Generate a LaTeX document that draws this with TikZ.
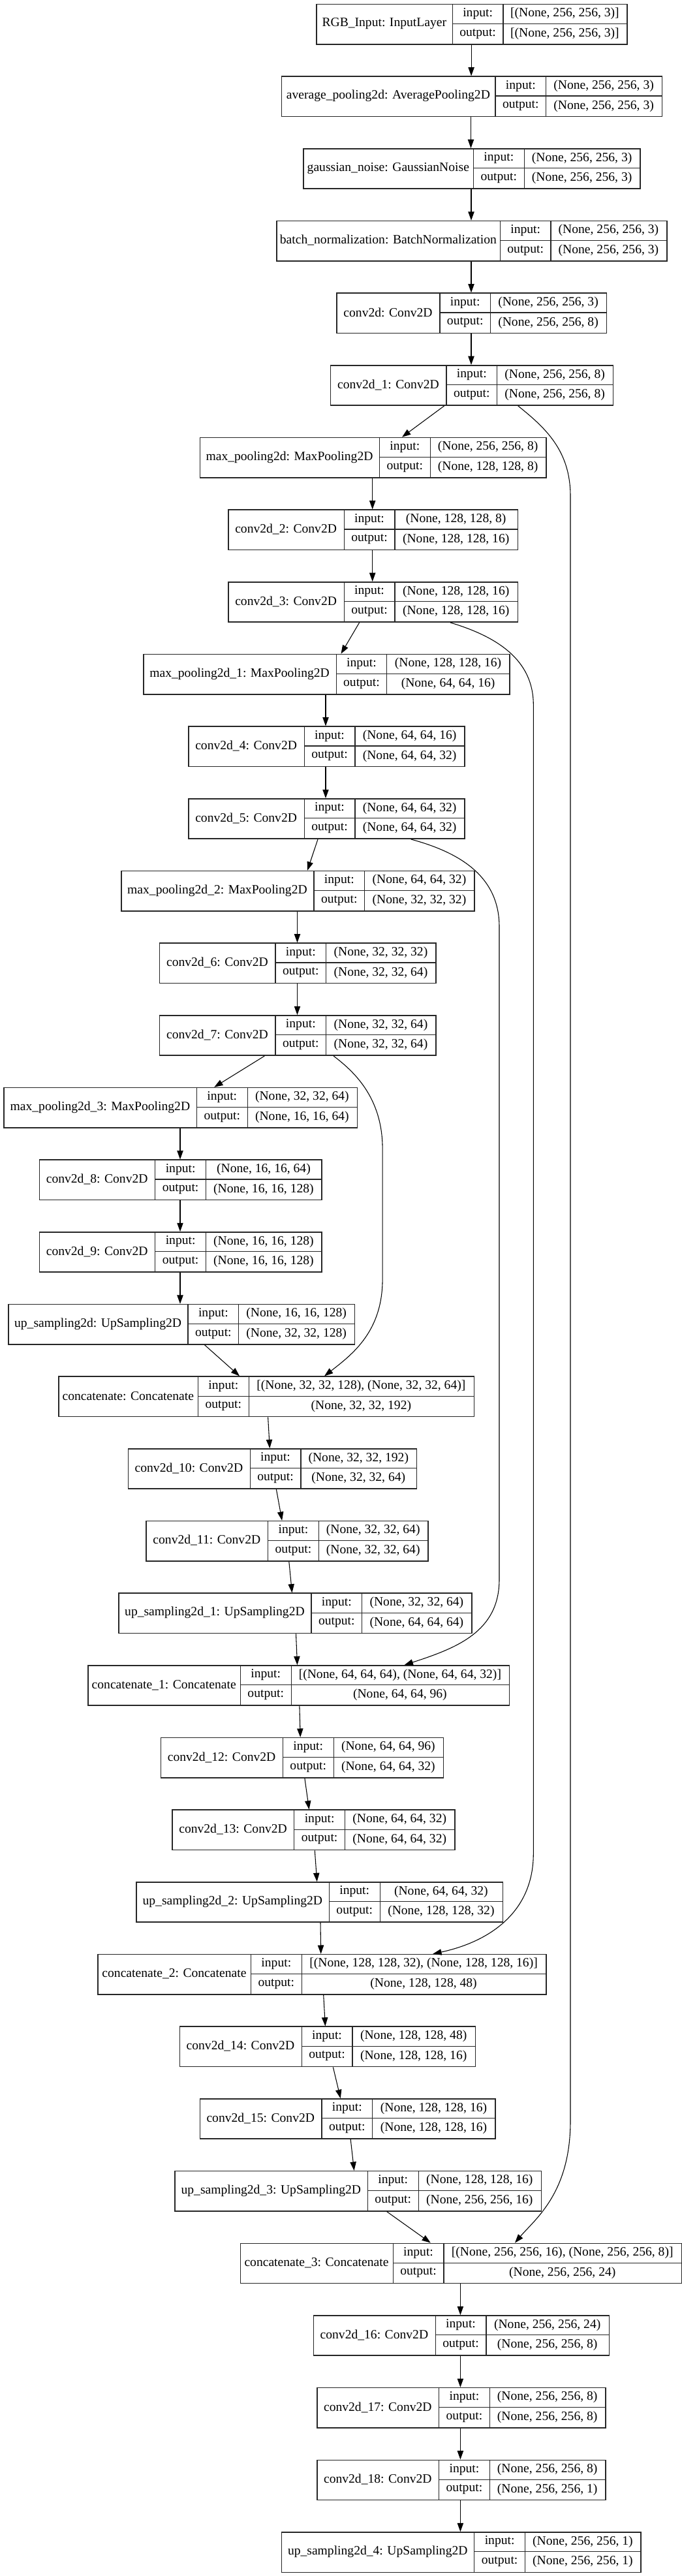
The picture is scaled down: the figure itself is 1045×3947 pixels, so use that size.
\documentclass[tikz,border=0pt]{standalone}
\usepackage{fontspec}
\setmainfont{Liberation Serif}
\usepackage{tikz}
\usetikzlibrary{arrows.meta}

\tikzset{
  layerbox/.style={draw=black!85, line width=1.2pt, inner sep=0pt, minimum height=45.975pt},
  cellline/.style={draw=black!85, line width=0.9pt},
  txt/.style={inner sep=0pt, font=\fontsize{14.7}{16}\selectfont},
  arr/.style={line width=0.8pt, -{Triangle[length=10pt,width=7pt]}},
}

% #1 id, #2 row, #3 left, #4 split1, #5 split2, #6 right, #7 title, #8 input, #9 output
\newcommand{\layer}[9]{%
  \pgfmathsetmacro{\ytop}{5.7+#2*110.67}
  \pgfmathsetmacro{\ymid}{\ytop+30.65}
  \pgfmathsetmacro{\ybot}{\ytop+61.3}
  \node[layerbox, minimum width={(#6-#3)*0.75pt}, anchor=north west] (#1) at (#3,\ytop) {};
  \draw[cellline] (#4,\ytop) -- (#4,\ybot) (#5,\ytop) -- (#5,\ybot) (#4,\ymid) -- (#6,\ymid);
  \node[txt] (#1-name) at ({(#3+#4)/2},\ymid) {#7};
  \node[txt] (#1-inl) at ({(#4+#5)/2},{\ytop+15.33}) {input:};
  \node[txt] (#1-outl) at ({(#4+#5)/2},{\ytop+45.98}) {output:};
  \node[txt] (#1-in) at ({(#5+#6)/2},{\ytop+15.33}) {#8};
  \node[txt] (#1-out) at ({(#5+#6)/2},{\ytop+45.98}) {#9};
}

\begin{document}
\begin{tikzpicture}[x=0.75pt,y=-0.75pt]

  \fill[white] (0,0) rectangle (1045,3947);
  \useasboundingbox (0,0) rectangle (1045,3947);

  % 编码部分
  \layer{rgb}{0}{484.3}{693.3}{771.0}{959.9}{RGB\_Input: InputLayer}{[(None, 256, 256, 3)]}{[(None, 256, 256, 3)]}
  \layer{avgpool}{1}{430.7}{759.0}{836.7}{1013.5}{average\_pooling2d: AveragePooling2D}{(None, 256, 256, 3)}{(None, 256, 256, 3)}
  \layer{gnoise}{2}{464.2}{725.5}{803.2}{980.0}{gaussian\_noise: GaussianNoise}{(None, 256, 256, 3)}{(None, 256, 256, 3)}
  \layer{bnorm}{3}{423.4}{766.4}{844.0}{1020.9}{batch\_normalization: BatchNormalization}{(None, 256, 256, 3)}{(None, 256, 256, 3)}
  \layer{cv0}{4}{515.1}{673.9}{751.6}{928.5}{conv2d: Conv2D}{(None, 256, 256, 3)}{(None, 256, 256, 8)}
  \layer{cv1}{5}{505.8}{684.0}{761.7}{938.5}{conv2d\_1: Conv2D}{(None, 256, 256, 8)}{(None, 256, 256, 8)}
  \layer{mp0}{6}{305.5}{581.5}{659.2}{836.0}{max\_pooling2d: MaxPooling2D}{(None, 256, 256, 8)}{(None, 128, 128, 8)}
  \layer{cv2}{7}{349.0}{527.2}{604.9}{792.5}{conv2d\_2: Conv2D}{(None, 128, 128, 8)}{(None, 128, 128, 16)}
  \layer{cv3}{8}{349.0}{527.2}{604.9}{792.5}{conv2d\_3: Conv2D}{(None, 128, 128, 16)}{(None, 128, 128, 16)}
  \layer{mp1}{9}{219.1}{515.1}{592.8}{780.4}{max\_pooling2d\_1: MaxPooling2D}{(None, 128, 128, 16)}{(None, 64, 64, 16)}
  \layer{cv4}{10}{288.0}{466.2}{543.9}{711.4}{conv2d\_4: Conv2D}{(None, 64, 64, 16)}{(None, 64, 64, 32)}
  \layer{cv5}{11}{288.0}{466.2}{543.9}{711.4}{conv2d\_5: Conv2D}{(None, 64, 64, 32)}{(None, 64, 64, 32)}
  \layer{mp2}{12}{184.9}{481.0}{558.7}{726.2}{max\_pooling2d\_2: MaxPooling2D}{(None, 64, 64, 32)}{(None, 32, 32, 32)}
  \layer{cv6}{13}{243.8}{422.0}{499.7}{667.2}{conv2d\_6: Conv2D}{(None, 32, 32, 32)}{(None, 32, 32, 64)}
  \layer{cv7}{14}{243.8}{422.0}{499.7}{667.2}{conv2d\_7: Conv2D}{(None, 32, 32, 64)}{(None, 32, 32, 64)}
  \layer{mp3}{15}{5.4}{301.4}{379.2}{546.6}{max\_pooling2d\_3: MaxPooling2D}{(None, 32, 32, 64)}{(None, 16, 16, 64)}
  \layer{cv8}{16}{59.6}{237.8}{315.5}{492.4}{conv2d\_8: Conv2D}{(None, 16, 16, 64)}{(None, 16, 16, 128)}
  \layer{cv9}{17}{59.6}{237.8}{315.5}{492.4}{conv2d\_9: Conv2D}{(None, 16, 16, 128)}{(None, 16, 16, 128)}

  % 解码部分
  \layer{up0}{18}{12.1}{288.0}{365.8}{542.6}{up\_sampling2d: UpSampling2D}{(None, 16, 16, 128)}{(None, 32, 32, 128)}
  \layer{cat0}{19}{89.1}{303.5}{381.2}{725.5}{concatenate: Concatenate}{[(None, 32, 32, 128), (None, 32, 32, 64)]}{(None, 32, 32, 192)}
  \layer{cv10}{20}{195.6}{383.2}{460.9}{637.7}{conv2d\_10: Conv2D}{(None, 32, 32, 192)}{(None, 32, 32, 64)}
  \layer{cv11}{21}{223.1}{410.6}{488.3}{655.1}{conv2d\_11: Conv2D}{(None, 32, 32, 64)}{(None, 32, 32, 64)}
  \layer{up1}{22}{180.9}{477.0}{554.7}{722.1}{up\_sampling2d\_1: UpSampling2D}{(None, 32, 32, 64)}{(None, 64, 64, 64)}
  \layer{cat1}{23}{134.0}{368.4}{446.1}{779.7}{concatenate\_1: Concatenate}{[(None, 64, 64, 64), (None, 64, 64, 32)]}{(None, 64, 64, 96)}
  \layer{cv12}{24}{245.8}{433.4}{511.1}{678.6}{conv2d\_12: Conv2D}{(None, 64, 64, 96)}{(None, 64, 64, 32)}
  \layer{cv13}{25}{263.3}{450.8}{528.5}{696.0}{conv2d\_13: Conv2D}{(None, 64, 64, 32)}{(None, 64, 64, 32)}
  \layer{up2}{26}{208.3}{504.4}{582.1}{769.7}{up\_sampling2d\_2: UpSampling2D}{(None, 64, 64, 32)}{(None, 128, 128, 32)}
  \layer{cat2}{27}{149.4}{384.5}{462.2}{836.0}{concatenate\_2: Concatenate}{[(None, 128, 128, 32), (None, 128, 128, 16)]}{(None, 128, 128, 48)}
  \layer{cv14}{28}{274.6}{462.2}{539.9}{727.5}{conv2d\_14: Conv2D}{(None, 128, 128, 48)}{(None, 128, 128, 16)}
  \layer{cv15}{29}{305.5}{493.0}{570.7}{758.3}{conv2d\_15: Conv2D}{(None, 128, 128, 16)}{(None, 128, 128, 16)}
  \layer{up3}{30}{267.3}{563.4}{641.1}{828.6}{up\_sampling2d\_3: UpSampling2D}{(None, 128, 128, 16)}{(None, 256, 256, 16)}
  \layer{cat3}{31}{367.8}{602.2}{679.9}{1043.6}{concatenate\_3: Concatenate}{[(None, 256, 256, 16), (None, 256, 256, 8)]}{(None, 256, 256, 24)}
  \layer{cv16}{32}{479.6}{667.2}{744.9}{932.5}{conv2d\_16: Conv2D}{(None, 256, 256, 24)}{(None, 256, 256, 8)}
  \layer{cv17}{33}{485.0}{672.6}{750.3}{927.1}{conv2d\_17: Conv2D}{(None, 256, 256, 8)}{(None, 256, 256, 8)}
  \layer{cv18}{34}{485.0}{672.6}{750.3}{927.1}{conv2d\_18: Conv2D}{(None, 256, 256, 8)}{(None, 256, 256, 1)}
  \layer{up4}{35}{430.7}{726.8}{804.5}{981.4}{up\_sampling2d\_4: UpSampling2D}{(None, 256, 256, 1)}{(None, 256, 256, 1)}

  % 顺序连接
  \foreach \a/\xa/\b/\xb in {rgb/722.1/avgpool/722.1, avgpool/721.5/gnoise/721.5,
      gnoise/722/bnorm/722, bnorm/722/cv0/722, cv0/722/cv1/722, cv1/680.6/mp0/616,
      mp0/570.7/cv2/570.7, cv2/570.7/cv3/570.7, cv3/550.6/mp1/522.5, mp1/499/cv4/499,
      cv4/499/cv5/499, cv5/487/mp2/471, mp2/455.5/cv6/455.5, cv6/455.5/cv7/455.5,
      cv7/405.3/mp3/328.2, mp3/276/cv8/276, cv8/276/cv9/276, cv9/276/up0/276,
      up0/313.5/cat0/367.1, cat0/410.6/cv10/413.3, cv10/423.4/cv11/432.1,
      cv11/442.8/up1/447.5, up1/453.5/cat1/455.5, cat1/458.9/cv12/460.2,
      cv12/466.9/cv13/473.6, cv13/482.3/up2/485.7, up2/491/cat2/491.7,
      cat2/495.7/cv14/498.4, cv14/510.4/cv15/521.8, cv15/537.2/up3/542.6,
      up3/592.8/cat3/659.8, cat3/705.4/cv16/705.4, cv16/705.4/cv17/705.4,
      cv17/705.4/cv18/705.4, cv18/705.4/up4/705.4}
    \draw[arr] (\xa,0 |- \a.south) -- (\xb,0 |- \b.north);

  % 跳跃连接
  \draw[arr] (793.8,0 |- cv1.south) .. controls (835,655) and (874,690) .. (874,760)
    -- (874,3250) .. controls (874,3360) and (820,3400) .. (789,0 |- cat3.north);
  \draw[arr] (690,0 |- cv3.south) .. controls (760,975) and (817.3,1010) .. (817.3,1080)
    -- (817.3,2840) .. controls (817.3,2930) and (750,2975) .. (663.2,0 |- cat2.north);
  \draw[arr] (629.7,0 |- cv5.south) .. controls (700,1305) and (765,1340) .. (765,1420)
    -- (765,2420) .. controls (765,2500) and (700,2525) .. (619.6,0 |- cat1.north);
  \draw[arr] (511.1,0 |- cv7.south) .. controls (540,1640) and (586.1,1680) .. (586.1,1760)
    -- (586.1,1960) .. controls (586.1,2040) and (540,2075) .. (497,0 |- cat0.north);

\end{tikzpicture}
\end{document}
